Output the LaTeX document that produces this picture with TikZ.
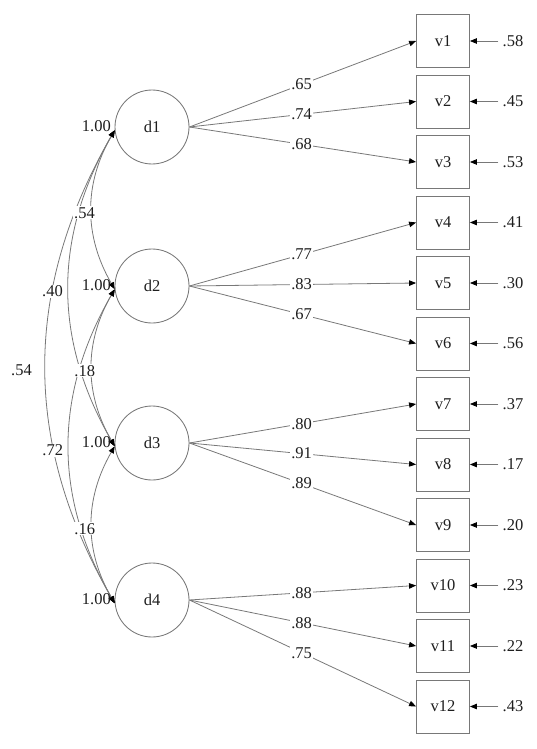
\documentclass[tikz,border=0pt]{standalone}
\usepackage{fontspec}
\setmainfont{Liberation Serif}
\usetikzlibrary{arrows.meta}
\definecolor{lc}{RGB}{120,120,120}
\definecolor{tc}{RGB}{30,30,30}
\tikzset{
  txt/.style={font=\fontsize{16.5}{18}\selectfont, text=tc},
  lat/.style={circle, draw=lc, line width=0.85pt, minimum size=74pt, inner sep=0pt, txt},
  obs/.style={rectangle, draw=lc, line width=0.85pt, minimum width=53pt, minimum height=53pt, inner sep=0pt, txt},
  tip/.tip={Triangle[length=7pt,width=5.5pt,black]},
  ldg/.style={draw=lc, line width=0.8pt, -tip},
  cov/.style={draw=lc, line width=0.8pt, tip-tip, bend right=30},
  lbl/.style={txt, fill=white, inner sep=1pt},
  err/.style={txt, inner xsep=4pt, inner ysep=1pt},
  var/.style={txt, anchor=east, inner sep=0pt}
}
\begin{document}
\begin{tikzpicture}[x=1pt,y=-1pt]
\useasboundingbox (0,0) rectangle (536,749);
% latent variables
\node[lat] (d1) at (152,127) {d1};
\node[lat] (d2) at (152,286) {d2};
\node[lat] (d3) at (152,443) {d3};
\node[lat] (d4) at (152,600) {d4};
% observed variables
\node[obs] (v1)  at (443,41)    {v1};
\node[obs] (v2)  at (443,101.5) {v2};
\node[obs] (v3)  at (443,162)   {v3};
\node[obs] (v4)  at (443,222.5) {v4};
\node[obs] (v5)  at (443,283)   {v5};
\node[obs] (v6)  at (443,343.5) {v6};
\node[obs] (v7)  at (443,404)   {v7};
\node[obs] (v8)  at (443,464.5) {v8};
\node[obs] (v9)  at (443,525)   {v9};
\node[obs] (v10) at (443,585.5) {v10};
\node[obs] (v11) at (443,646)   {v11};
\node[obs] (v12) at (443,706.5) {v12};
% error labels and arrows
\node[err] (r1)  at (513,41)    {.58};
\node[err] (r2)  at (513,101.5) {.45};
\node[err] (r3)  at (513,162)   {.53};
\node[err] (r4)  at (513,222.5) {.41};
\node[err] (r5)  at (513,283)   {.30};
\node[err] (r6)  at (513,343.5) {.56};
\node[err] (r7)  at (513,404)   {.37};
\node[err] (r8)  at (513,464.5) {.17};
\node[err] (r9)  at (513,525)   {.20};
\node[err] (r10) at (513,585.5) {.23};
\node[err] (r11) at (513,646)   {.22};
\node[err] (r12) at (513,706.5) {.43};
\foreach \i in {1,...,12} { \draw[ldg] (r\i) -- (v\i); }
% loadings
\draw[ldg] (d1.east) -- node[lbl,pos=0.495]{.65} (v1.west);
\draw[ldg] (d1.east) -- node[lbl,pos=0.495]{.74} (v2.west);
\draw[ldg] (d1.east) -- node[lbl,pos=0.495]{.68} (v3.west);
\draw[ldg] (d2.east) -- node[lbl,pos=0.495]{.77} (v4.west);
\draw[ldg] (d2.east) -- node[lbl,pos=0.495]{.83} (v5.west);
\draw[ldg] (d2.east) -- node[lbl,pos=0.495]{.67} (v6.west);
\draw[ldg] (d3.east) -- node[lbl,pos=0.495]{.80} (v7.west);
\draw[ldg] (d3.east) -- node[lbl,pos=0.495]{.91} (v8.west);
\draw[ldg] (d3.east) -- node[lbl,pos=0.495]{.89} (v9.west);
\draw[ldg] (d4.east) -- node[lbl,pos=0.495]{.88} (v10.west);
\draw[ldg] (d4.east) -- node[lbl,pos=0.495]{.88} (v11.west);
\draw[ldg] (d4.east) -- node[lbl,pos=0.495]{.75} (v12.west);
% covariances
\draw[cov] (d1.185) to coordinate[pos=0.5] (m12) (d2.185);
\draw[cov] (d2.185) to coordinate[pos=0.5] (m23) (d3.185);
\draw[cov] (d3.185) to coordinate[pos=0.5] (m34) (d4.185);
\draw[cov] (d1.185) to coordinate[pos=0.5] (m13) (d3.185);
\draw[cov] (d2.185) to coordinate[pos=0.5] (m24) (d4.185);
\draw[cov] (d1.185) to coordinate[pos=0.5] (m14) (d4.185);
\node[lbl] (c12) at ([shift={(-7,3)}]m12) {.54};
\node[lbl] (c23) at ([shift={(-7,3)}]m23) {.18};
\node[lbl] (c34) at ([shift={(-7,4)}]m34) {.16};
\node[lbl] (c13) at ([shift={(-16,3)}]m13) {.40};
\node[lbl] (c24) at ([shift={(-16,4)}]m24) {.72};
\node[lbl] (c14) at ([shift={(-24,3)}]m14) {.54};
% variances
\node[var] (w1) at (111,126) {1.00};
\node[var] (w2) at (111,285) {1.00};
\node[var] (w3) at (111,442) {1.00};
\node[var] (w4) at (111,599) {1.00};
\end{tikzpicture}
\end{document}
